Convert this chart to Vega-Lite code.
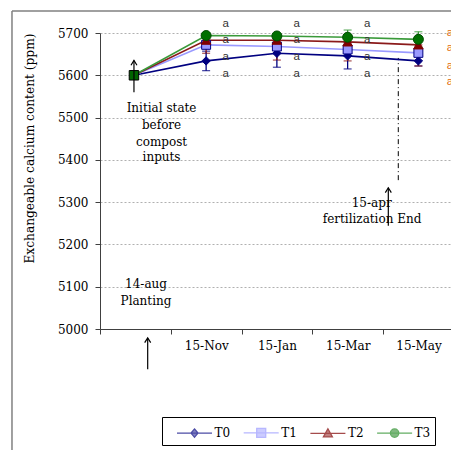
{
  "$schema": "https://vega.github.io/schema/vega-lite/v6.json",
  "width": 351,
  "height": 296,
  "autosize": "none",
  "padding": {"left": 100, "top": 33, "right": 0, "bottom": 121},
  "background": "white",
  "config": {"view": {"stroke": null}, "font": "DejaVu Serif"},
  "datasets": {
    "series": [
      {"u": 0.48, "series": "T0", "value": 5600, "lo": 5600, "hi": 5600},
      {"u": 1.5, "series": "T0", "value": 5634, "lo": 5611, "hi": 5657},
      {"u": 2.5, "series": "T0", "value": 5652, "lo": 5619, "hi": 5685},
      {"u": 3.5, "series": "T0", "value": 5646, "lo": 5615, "hi": 5677},
      {"u": 4.5, "series": "T0", "value": 5634, "lo": 5622, "hi": 5646},
      {"u": 0.48, "series": "T1", "value": 5600, "lo": 5600, "hi": 5600},
      {"u": 1.5, "series": "T1", "value": 5672, "lo": 5664, "hi": 5680},
      {"u": 2.5, "series": "T1", "value": 5668, "lo": 5660, "hi": 5676},
      {"u": 3.5, "series": "T1", "value": 5661, "lo": 5653, "hi": 5669},
      {"u": 4.5, "series": "T1", "value": 5653, "lo": 5645, "hi": 5661},
      {"u": 0.48, "series": "T2", "value": 5600, "lo": 5600, "hi": 5600},
      {"u": 1.5, "series": "T2", "value": 5683, "lo": 5652, "hi": 5683},
      {"u": 2.5, "series": "T2", "value": 5683, "lo": 5636, "hi": 5683},
      {"u": 3.5, "series": "T2", "value": 5679, "lo": 5634, "hi": 5679},
      {"u": 4.5, "series": "T2", "value": 5672, "lo": 5622, "hi": 5672},
      {"u": 0.48, "series": "T3", "value": 5600, "lo": 5600, "hi": 5600},
      {"u": 1.5, "series": "T3", "value": 5694, "lo": 5688, "hi": 5700},
      {"u": 2.5, "series": "T3", "value": 5693, "lo": 5687, "hi": 5699},
      {"u": 3.5, "series": "T3", "value": 5690, "lo": 5673, "hi": 5707},
      {"u": 4.5, "series": "T3", "value": 5685, "lo": 5667, "hi": 5703}
    ],
    "annot": [
      {"u": 0.87, "value": 5523, "label": "Initial state"},
      {"u": 0.87, "value": 5483, "label": "before"},
      {"u": 0.87, "value": 5443, "label": "compost"},
      {"u": 0.87, "value": 5407, "label": "inputs"},
      {"u": 0.65, "value": 5106, "label": "14-aug"},
      {"u": 0.65, "value": 5067, "label": "Planting"},
      {"u": 3.84, "value": 5298, "label": "15-apr"},
      {"u": 3.845, "value": 5260, "label": "fertilization End"}
    ],
    "letters": [
      {"u": 1.776, "value": 5721, "label": "a"}, {"u": 1.776, "value": 5683, "label": "a"},
      {"u": 1.776, "value": 5644, "label": "a"}, {"u": 1.776, "value": 5603, "label": "a"},
      {"u": 2.78, "value": 5721, "label": "a"}, {"u": 2.78, "value": 5683, "label": "a"},
      {"u": 2.78, "value": 5644, "label": "a"}, {"u": 2.78, "value": 5603, "label": "a"},
      {"u": 3.778, "value": 5721, "label": "a"}, {"u": 3.778, "value": 5683, "label": "a"},
      {"u": 3.778, "value": 5644, "label": "a"}, {"u": 3.778, "value": 5603, "label": "a"}
    ],
    "letters2": [
      {"u": 4.947, "value": 5700, "label": "a"}, {"u": 4.947, "value": 5665, "label": "a"},
      {"u": 4.947, "value": 5622, "label": "a"}, {"u": 4.947, "value": 5584, "label": "a"}
    ],
    "arrows": [
      {"u": 0.48, "value": 5560, "value2": 5635},
      {"u": 0.674, "value": 4905, "value2": 4979},
      {"u": 4.075, "value": 5244, "value2": 5334}
    ],
    "dashline": [{"u": 4.216, "value": 5352, "value2": 5641}],
    "frame": [
      {"u": -1.244, "u2": -1.244, "value": 4700, "value2": 5752},
      {"u": -1.244, "u2": 5.5, "value": 5752, "value2": 5752}
    ],
    "initial": [{"u": 0.48, "value": 5600}]
  },
  "resolve": {"scale": {"shape": "independent", "fill": "independent", "stroke": "independent"}},
  "layer": [
    {
      "layer": [
        {
          "data": {"name": "frame"},
          "mark": {"type": "rule", "color": "#808080", "strokeWidth": 1.5},
          "encoding": {
            "x": {"field": "u", "type": "quantitative", "title": null},
            "x2": {"field": "u2"},
            "y": {"field": "value", "type": "quantitative", "title": "Exchangeable calcium content (ppm)"},
            "y2": {"field": "value2"}
          }
        },
        {
          "data": {"name": "dashline"},
          "mark": {"type": "rule", "color": "black", "strokeWidth": 1, "strokeDash": [5, 3, 1, 3]},
          "encoding": {
            "x": {"field": "u", "type": "quantitative", "title": null},
            "y": {"field": "value", "type": "quantitative", "title": "Exchangeable calcium content (ppm)"},
            "y2": {"field": "value2"}
          }
        },
        {
          "data": {"name": "series"},
          "transform": [{"filter": "datum.u > 1"}],
          "mark": {"type": "errorbar", "ticks": {"size": 8}, "thickness": 1.3},
          "encoding": {
            "x": {"field": "u", "type": "quantitative", "title": null},
            "y": {"field": "lo", "type": "quantitative", "title": "Exchangeable calcium content (ppm)"},
            "y2": {"field": "hi"},
            "color": {"field": "series", "type": "nominal", "legend": null}
          }
        },
        {
          "data": {"name": "series"},
          "mark": {"type": "line", "strokeWidth": 1.6},
          "encoding": {
            "x": {
              "field": "u", "type": "quantitative", "title": null,
              "scale": {"domain": [0, 4.961], "nice": false, "zero": false},
              "axis": {
                "title": null, "values": [0, 1, 2, 3, 4], "grid": false,
                "labelExpr": "datum.value==1?'15-Nov':datum.value==2?'15-Jan':datum.value==3?'15-Mar':datum.value==4?'15-May':''",
                "labelOffset": 35.5, "labelFlush": false, "labelBound": false, "labelOverlap": false,
                "tickSize": 5, "labelPadding": 6, "labelFont": "DejaVu Serif", "labelFontSize": 12,
                "labelColor": "black", "domainColor": "#404040", "tickColor": "#404040"
              }
            },
            "y": {
              "field": "value", "type": "quantitative", "title": "Exchangeable calcium content (ppm)",
              "scale": {"domain": [5000, 5700], "nice": false, "zero": false},
              "axis": {
                "values": [5000, 5100, 5200, 5300, 5400, 5500, 5600, 5700], "format": "d",
                "grid": true, "gridDash": [2, 2], "gridColor": "#b0b0b0",
                "tickSize": 5, "labelPadding": 7, "labelFont": "DejaVu Serif", "labelFontSize": 12,
                "labelColor": "black", "domainColor": "#404040", "tickColor": "#404040",
                "titleFont": "DejaVu Serif", "titleFontSize": 12.2, "titleFontWeight": "normal",
                "titleColor": "black", "titlePadding": 21, "titleAnchor": "end"
              }
            },
            "color": {
              "field": "series", "type": "nominal",
              "scale": {"domain": ["T0", "T1", "T2", "T3"], "range": ["#000080", "#9999FF", "#8B1A1A", "#3A9A3A"]},
              "legend": null
            }
          }
        },
        {
          "data": {"name": "series"},
          "transform": [{"filter": "datum.u > 1"}],
          "mark": {"type": "point", "filled": true, "strokeWidth": 1, "opacity": 1},
          "encoding": {
            "x": {"field": "u", "type": "quantitative", "title": null},
            "y": {"field": "value", "type": "quantitative", "title": "Exchangeable calcium content (ppm)"},
            "shape": {"field": "series", "type": "nominal", "scale": {"domain": ["T0", "T1", "T2", "T3"], "range": ["diamond", "square", "triangle-up", "circle"]}, "legend": null},
            "fill": {"field": "series", "type": "nominal", "scale": {"domain": ["T0", "T1", "T2", "T3"], "range": ["#000080", "#9999FF", "#800000", "#007000"]}, "legend": null},
            "stroke": {"field": "series", "type": "nominal", "scale": {"domain": ["T0", "T1", "T2", "T3"], "range": ["#000080", "#000080", "#800000", "#004d00"]}, "legend": null},
            "size": {"field": "series", "type": "ordinal", "scale": {"domain": ["T0", "T1", "T2", "T3"], "range": [70, 100, 70, 85]}, "legend": null}
          }
        },
        {
          "data": {"name": "initial"},
          "mark": {"type": "point", "shape": "square", "filled": true, "fill": "#006400", "stroke": "black", "strokeWidth": 1, "size": 90, "opacity": 1},
          "encoding": {
            "x": {"field": "u", "type": "quantitative", "title": null},
            "y": {"field": "value", "type": "quantitative", "title": "Exchangeable calcium content (ppm)"}
          }
        },
        {
          "data": {"name": "arrows"},
          "mark": {"type": "rule", "color": "black", "strokeWidth": 1.2},
          "encoding": {
            "x": {"field": "u", "type": "quantitative", "title": null},
            "y": {"field": "value", "type": "quantitative", "title": "Exchangeable calcium content (ppm)"},
            "y2": {"field": "value2"}
          }
        },
        {
          "data": {"name": "arrows"},
          "mark": {"type": "point", "shape": "M-1,1.6L0,0L1,1.6", "filled": false, "stroke": "black", "strokeWidth": 1.2, "size": 36, "opacity": 1},
          "encoding": {
            "x": {"field": "u", "type": "quantitative", "title": null},
            "y": {"field": "value2", "type": "quantitative", "title": "Exchangeable calcium content (ppm)"}
          }
        },
        {
          "data": {"name": "annot"},
          "mark": {"type": "text", "font": "DejaVu Serif", "fontSize": 12, "color": "black", "align": "center", "baseline": "middle"},
          "encoding": {
            "x": {"field": "u", "type": "quantitative", "title": null},
            "y": {"field": "value", "type": "quantitative", "title": "Exchangeable calcium content (ppm)"},
            "text": {"field": "label"}
          }
        },
        {
          "data": {"name": "letters"},
          "mark": {"type": "text", "font": "Liberation Sans", "fontSize": 11.5, "color": "#333333", "align": "center", "baseline": "middle"},
          "encoding": {
            "x": {"field": "u", "type": "quantitative", "title": null},
            "y": {"field": "value", "type": "quantitative", "title": "Exchangeable calcium content (ppm)"},
            "text": {"field": "label"}
          }
        },
        {
          "data": {"name": "letters2"},
          "mark": {"type": "text", "font": "Liberation Sans", "fontSize": 11.5, "color": "#E36C09", "align": "center", "baseline": "middle"},
          "encoding": {
            "x": {"field": "u", "type": "quantitative", "title": null},
            "y": {"field": "value", "type": "quantitative", "title": "Exchangeable calcium content (ppm)"},
            "text": {"field": "label"}
          }
        }
      ]
    },
    {
      "data": {"values": [{"series": "T0"}]},
      "transform": [{"filter": "false"}],
      "mark": {"type": "point", "filled": true, "strokeWidth": 1.3},
      "encoding": {
        "shape": {
          "field": "series", "type": "nominal",
          "scale": {"domain": ["T0", "T1", "T2", "T3"], "range": [
            "M-1.75,0H1.75M0,-0.42L0.35,0L0,0.42L-0.35,0Z",
            "M-1.75,0H1.75M-0.45,-0.45H0.45V0.45H-0.45Z",
            "M-1.75,0H1.75M0,-0.47L0.45,0.35H-0.45Z",
            "M-1.75,0H1.75M0.42,0A0.42,0.42,0,1,1,-0.42,0A0.42,0.42,0,1,1,0.42,0Z"
          ]},
          "legend": {"orient": "none", "legendX": 62, "legendY": 384, "direction": "horizontal", "title": null, "strokeColor": "black", "fillColor": "white", "padding": 4.5, "symbolSize": 400, "symbolStrokeWidth": 1.3, "symbolOffset": 17, "labelFont": "DejaVu Serif", "labelFontSize": 12, "labelColor": "black", "labelOffset": 9, "columnPadding": 2.7}
        },
        "fill": {
          "field": "series", "type": "nominal",
          "scale": {"domain": ["T0", "T1", "T2", "T3"], "range": ["#000080", "#9999FF", "#800000", "#007000"]},
          "legend": {"orient": "none", "legendX": 62, "legendY": 384, "direction": "horizontal", "title": null, "strokeColor": "black", "fillColor": "white", "padding": 4.5, "symbolSize": 400, "symbolStrokeWidth": 1.3, "symbolOffset": 17, "labelFont": "DejaVu Serif", "labelFontSize": 12, "labelColor": "black", "labelOffset": 9, "columnPadding": 2.7}
        },
        "stroke": {
          "field": "series", "type": "nominal",
          "scale": {"domain": ["T0", "T1", "T2", "T3"], "range": ["#000080", "#9999FF", "#800000", "#228B22"]},
          "legend": {"orient": "none", "legendX": 62, "legendY": 384, "direction": "horizontal", "title": null, "strokeColor": "black", "fillColor": "white", "padding": 4.5, "symbolSize": 400, "symbolStrokeWidth": 1.3, "symbolOffset": 17, "labelFont": "DejaVu Serif", "labelFontSize": 12, "labelColor": "black", "labelOffset": 9, "columnPadding": 2.7}
        }
      }
    }
  ]
}
